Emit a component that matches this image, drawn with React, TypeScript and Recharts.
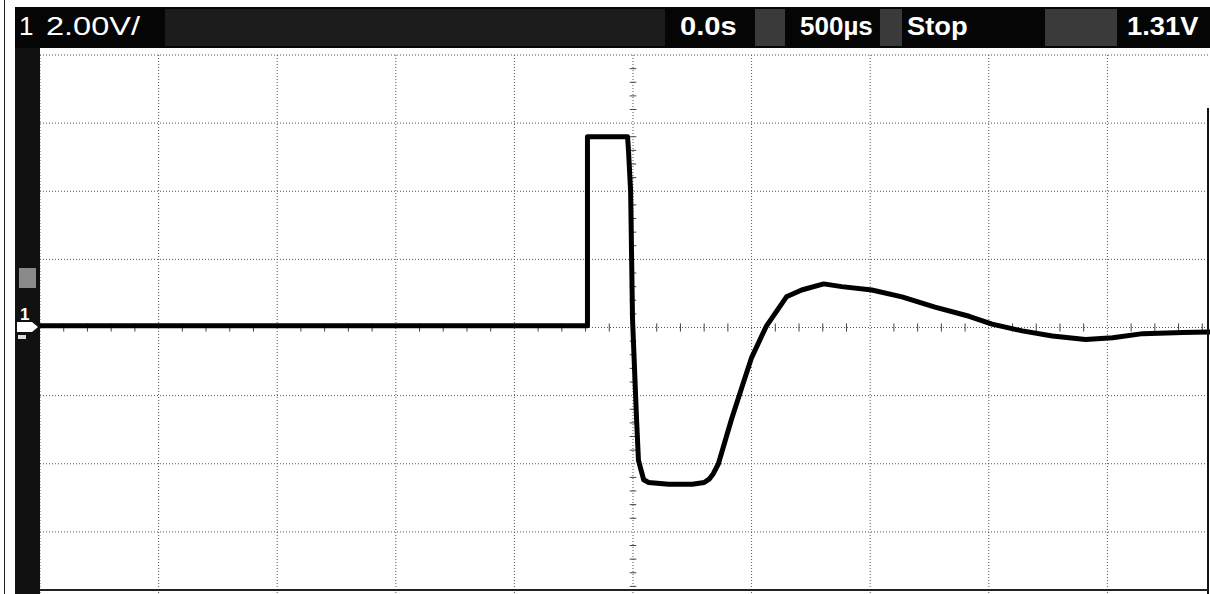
import React from 'react';
import { LineChart, Line, XAxis, YAxis, CartesianGrid, ReferenceLine } from 'recharts';

// Time in microseconds (500 µs/div, trigger at 0.0 s), voltage in volts (2.00 V/div)
const timeUs = [
  -2500, -192, -192, -23, -19, -10, -2, 15, 23, 45, 66, 150, 250, 300, 321, 338, 360, 415, 457,
  499, 563, 647, 711, 804, 880, 1007, 1134, 1273, 1417, 1514, 1641, 1768, 1908, 2022, 2149, 2318, 2500,
];
const volts = [
  0.05, 0.05, 5.6, 5.6, 5.2, 4.0, 0.25, -2.7, -3.9, -4.47, -4.55, -4.6, -4.6, -4.55, -4.45, -4.3, -4.0, -2.7, -1.8,
  -0.9, 0.05, 0.9, 1.1, 1.28, 1.2, 1.1, 0.9, 0.6, 0.33, 0.1, -0.1, -0.25, -0.35, -0.3, -0.18, -0.15, -0.12,
];

const xTicks = [-2500, -2000, -1500, -1000, -500, 0, 500, 1000, 1500, 2000, 2500];
const yTicks = [-8, -6, -4, -2, 0, 2, 4, 6, 8];

const channelLabel = '1';
const scaleLabel = '2.00V/';
const delayLabel = '0.0s';
const timebaseLabel = '500\u00b5s';
const runLabel = 'Stop';
const triggerLabel = '1.31V';

const data = timeUs.map((t, i) => ({ t, v: volts[i] }));

// graticule minor ticks (0.2 div)
const minorT: number[] = [];
for (let k = -25; k <= 25; k++) if (k % 5 !== 0) minorT.push(k * 100);
const minorV: number[] = [];
for (let k = -20; k <= 20; k++) if (k % 5 !== 0) minorV.push(Math.round(k * 0.4 * 100) / 100);

const FONT = '"Liberation Sans", Arial, Helvetica, sans-serif';

const txt = (x: number, bold = true, sx = 1.12): React.CSSProperties => ({
  position: 'absolute',
  left: x,
  top: 11,
  color: '#fff',
  fontFamily: FONT,
  fontWeight: bold ? 700 : 400,
  fontSize: 26,
  lineHeight: '30px',
  whiteSpace: 'nowrap',
  transform: `scaleX(${sx})`,
  transformOrigin: 'left center',
});

export default function App() {
  return (
    <div
      style={{
        position: 'fixed',
        left: 0,
        top: 0,
        width: 1210,
        height: 594,
        overflow: 'hidden',
        background: '#fff',
      }}
    >
      <div style={{ position: 'absolute', left: 0, top: 0 }}>
        <LineChart width={1240} height={600} data={data} margin={{ top: 55, right: 14, bottom: 0, left: 40 }}>
          <CartesianGrid stroke="#555" strokeDasharray="1 2" strokeWidth={1} />
          <XAxis type="number" dataKey="t" domain={[-2500, 2500]} ticks={xTicks} hide />
          <YAxis type="number" domain={[-8, 8]} ticks={yTicks} hide />
          {minorT.map((t) => (
            <ReferenceLine key={'mt' + t} segment={[{ x: t, y: -0.12 }, { x: t, y: 0.12 }]} stroke="#444" strokeWidth={1} />
          ))}
          {minorV.map((v) => (
            <ReferenceLine key={'mv' + v} segment={[{ x: -14, y: v }, { x: 14, y: v }]} stroke="#444" strokeWidth={1} />
          ))}
          <Line
            type="linear"
            dataKey="v"
            stroke="#000"
            strokeWidth={5}
            strokeLinejoin="round"
            strokeLinecap="round"
            dot={false}
            activeDot={false}
            isAnimationActive={false}
          />
        </LineChart>
      </div>

      {/* outer scan border */}
      <div style={{ position: 'absolute', left: 4, top: 0, width: 1, height: 594, background: '#222' }} />
      {/* left black bar */}
      <div style={{ position: 'absolute', left: 15, top: 7, width: 25, height: 587, background: '#111' }} />
      {/* header bar */}
      <div style={{ position: 'absolute', left: 15, top: 7, width: 1195, height: 41, background: '#050505' }} />
      {/* speckled grey areas in header */}
      <div style={{ position: 'absolute', left: 165, top: 9, width: 500, height: 37, background: '#1c1c1c' }} />
      <div style={{ position: 'absolute', left: 755, top: 9, width: 30, height: 37, background: '#3a3a3a' }} />
      <div style={{ position: 'absolute', left: 880, top: 9, width: 22, height: 37, background: '#3a3a3a' }} />
      <div style={{ position: 'absolute', left: 1045, top: 9, width: 72, height: 37, background: '#3a3a3a' }} />
      <div style={txt(19, false, 1)}>{channelLabel}</div>
      <div style={txt(46, false, 1.25)}>{scaleLabel}</div>
      <div style={txt(680)}>{delayLabel}</div>
      <div style={txt(800, true, 1.0)}>{timebaseLabel}</div>
      <div style={txt(907, true, 1.05)}>{runLabel}</div>
      <div style={txt(1127, true, 1.05)}>{triggerLabel}</div>

      {/* right border and bottom border */}
      <div style={{ position: 'absolute', left: 1207, top: 108, width: 2, height: 486, background: '#111' }} />
      <div style={{ position: 'absolute', left: 40, top: 589, width: 1169, height: 2, background: '#222' }} />

      {/* markers in left bar */}
      <svg style={{ position: 'absolute', left: 0, top: 0 }} width={60} height={594}>
        <rect x={19} y={268} width={17} height={20} fill="#8a8a8a" />
        <text x={20} y={320} fill="#fff" fontFamily={FONT} fontWeight={700} fontSize={17}>
          {channelLabel}
        </text>
        <polygon points="17,322 32,322 38,327 32,332 17,332" fill="#fff" />
        <rect x={18} y={335} width={8} height={4} fill="#ddd" />
      </svg>
    </div>
  );
}
